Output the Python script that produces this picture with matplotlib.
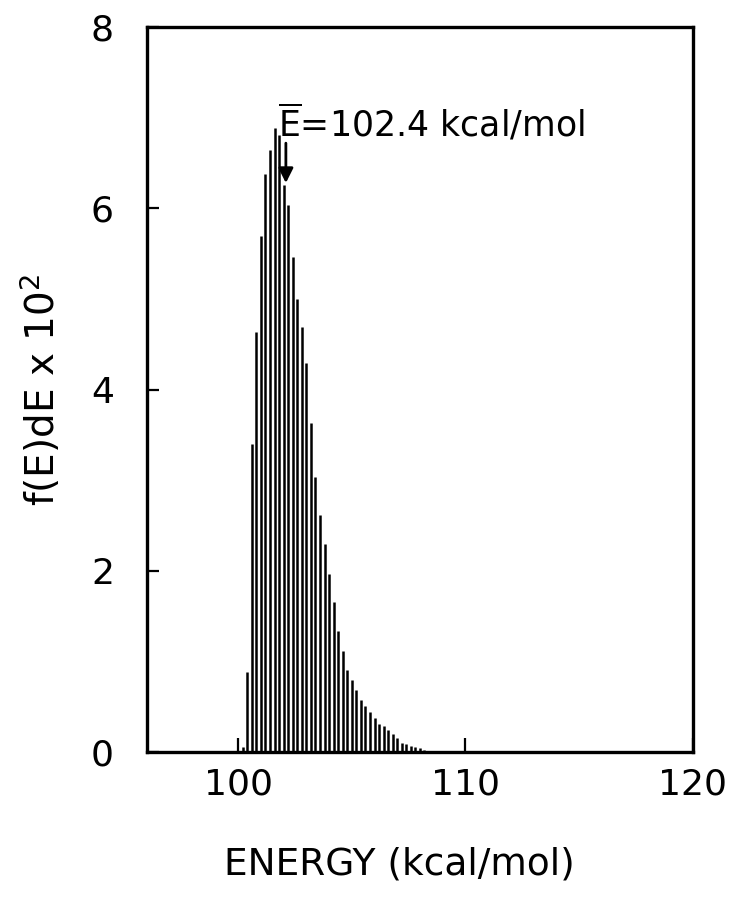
"""Stick spectrum of the energy distribution f(E)dE."""

import matplotlib

matplotlib.use("Agg")
import matplotlib.pyplot as plt

# energies of the sticks (kcal/mol) and heights f(E)dE x 10^2
energy = [
    100.2, 100.4, 100.6, 100.8, 101.0, 101.2, 101.4, 101.6, 101.8, 102.0,
    102.2, 102.4, 102.6, 102.8, 103.0, 103.2, 103.4, 103.6, 103.8, 104.0,
    104.2, 104.4, 104.6, 104.8, 105.0, 105.2, 105.4, 105.6, 105.8, 106.0,
    106.2, 106.4, 106.6, 106.8, 107.0, 107.2, 107.4, 107.6, 107.8, 108.0,
    108.2,
]
fraction = [
    0.05, 0.88, 3.40, 4.64, 5.69, 6.38, 6.65, 6.89, 6.81, 6.26,
    6.04, 5.46, 5.00, 4.69, 4.29, 3.63, 3.03, 2.61, 2.30, 1.96,
    1.66, 1.33, 1.11, 0.90, 0.79, 0.68, 0.57, 0.51, 0.44, 0.37,
    0.31, 0.29, 0.24, 0.20, 0.15, 0.10, 0.09, 0.07, 0.05, 0.04,
    0.02,
]

x_ticks = [100, 110, 120]
y_ticks = [0, 2, 4, 6, 8]
mean_energy = 102.4
arrow_x = 102.1  # where the arrow is drawn in the original

plt.rcParams["font.family"] = ["DejaVu Sans"]
plt.rcParams["mathtext.fontset"] = "dejavusans"

fig = plt.figure(figsize=(7.4, 9.07), dpi=100)
ax = fig.add_axes([0.199, 0.171, 0.737, 0.799])

ax.vlines(energy, 0, fraction, colors="black", linewidth=1.8)

ax.set_xlim(96, 120)
ax.set_ylim(0, 8)
ax.set_xticks(x_ticks)
ax.set_yticks(y_ticks)
for side in ax.spines.values():
    side.set_linewidth(2.4)

ax.tick_params(axis="x", direction="in", length=10, width=1.6, labelsize=26, pad=11)
ax.tick_params(axis="y", direction="in", length=8.5, width=1.6, labelsize=26, pad=24)

ax.set_ylabel(r"f(E)dE x 10$^2$", fontsize=28)
ax.yaxis.set_label_coords(-0.155, 0.5)
ax.set_xlabel("ENERGY (kcal/mol)", fontsize=27)
ax.xaxis.set_label_coords(0.463, -0.13)

ax.text(101.76, 6.79, r"$\overline{\mathrm{E}}$=%.1f kcal/mol" % mean_energy,
        fontsize=25, ha="left", va="baseline")
ax.annotate("", xy=(arrow_x, 6.28), xytext=(arrow_x, 6.72),
            arrowprops=dict(arrowstyle="-|>", color="black", lw=2,
                            shrinkA=0, shrinkB=0, mutation_scale=22))

fig.savefig("out.png", dpi=100)
